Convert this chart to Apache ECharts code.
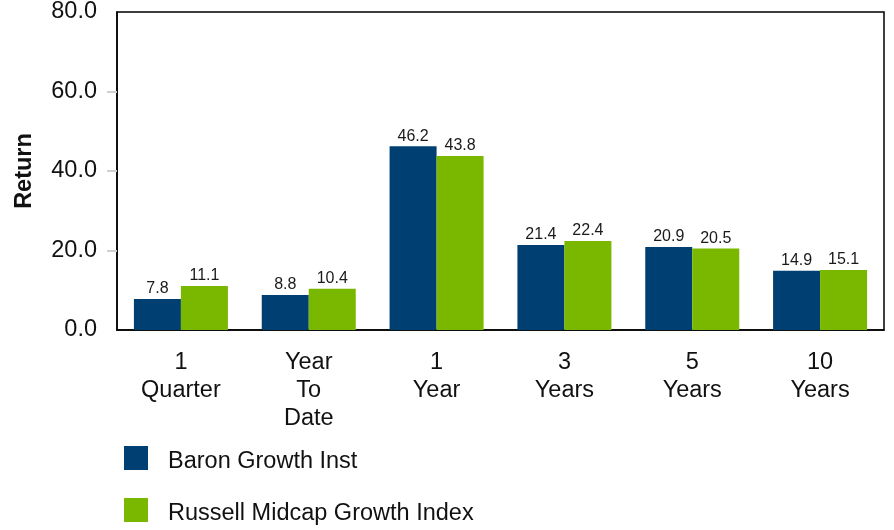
<!DOCTYPE html>
<html>
<head>
<meta charset="utf-8">
<script src="https://cdn.jsdelivr.net/npm/echarts@6/dist/echarts.min.js"></script>
<style>
  html, body { margin: 0; padding: 0; background: #fff; }
  #chart { width: 894px; height: 530px; }
</style>
</head>
<body>
<div id="chart"></div>
<script>
// Period categories and returns (%)
const categories = ['1\nQuarter', 'Year\nTo\nDate', '1\nYear', '3\nYears', '5\nYears', '10\nYears'];
const fundName = 'Baron Growth Inst';
const indexName = 'Russell Midcap Growth Index';
const fundReturns = [7.8, 8.8, 46.2, 21.4, 20.9, 14.9];
const indexReturns = [11.1, 10.4, 43.8, 22.4, 20.5, 15.1];
const yTickValues = [20, 40, 60];

const FONT = '"Liberation Sans", Arial, sans-serif';
const TEXT = 23.5;

const chart = echarts.init(document.getElementById('chart'), null, { renderer: 'canvas' });

const barLabel = {
  show: true,
  position: 'top',
  distance: 2,
  fontSize: 16,
  fontFamily: FONT,
  color: '#1a1a1a',
  formatter: p => p.value.toFixed(1)
};

// one legend block per series, stacked vertically; text sits slightly below the swatch centre
const legendBlock = (name, top) => ({
  left: 124, top: top,
  padding: 0,
  icon: 'rect',
  itemWidth: 24, itemHeight: 24,
  formatter: n => '{t|' + n + '}',
  textStyle: {
    fontSize: TEXT, color: '#111', fontFamily: FONT, padding: [0, 0, 0, 15],
    rich: { t: { fontSize: TEXT, color: '#111', fontFamily: FONT, padding: [8, 0, 0, 0] } }
  },
  data: [name]
});

chart.setOption({
  animation: false,
  textStyle: { fontFamily: FONT },
  grid: {
    left: 117, right: 10, top: 12, bottom: 200,
    containLabel: false,
    outerBoundsMode: 'none',
    show: true, borderColor: '#000', borderWidth: 1.5
  },
  legend: [legendBlock(fundName, 446), legendBlock(indexName, 498)],
  xAxis: {
    type: 'category',
    data: categories,
    axisLine: { lineStyle: { color: '#000', width: 1.5 } },
    axisTick: { alignWithLabel: true, length: 10, lineStyle: { color: '#d0d0d0', width: 2 } },
    axisLabel: { fontSize: TEXT, color: '#111', lineHeight: 28, margin: 19, fontFamily: FONT }
  },
  yAxis: {
    type: 'value',
    min: 0, max: 80, interval: 20,
    name: 'Return',
    nameLocation: 'middle',
    nameGap: 80,
    nameTextStyle: { fontSize: TEXT, fontWeight: 'bold', color: '#111', fontFamily: FONT },
    splitLine: { show: false },
    axisLine: { show: true, lineStyle: { color: '#000', width: 1.5 } },
    axisTick: { show: true, length: 10, customValues: yTickValues, lineStyle: { color: '#d0d0d0', width: 2 } },
    axisLabel: { fontSize: TEXT, color: '#111', margin: 20, fontFamily: FONT, formatter: v => v.toFixed(1) }
  },
  series: [
    {
      name: fundName, type: 'bar', data: fundReturns,
      barWidth: 47, barGap: '0%',
      itemStyle: { color: '#003F72' },
      label: barLabel
    },
    {
      name: indexName, type: 'bar', data: indexReturns,
      barWidth: 47, barGap: '0%',
      itemStyle: { color: '#7AB800' },
      label: barLabel
    }
  ]
});
</script>
</body>
</html>
